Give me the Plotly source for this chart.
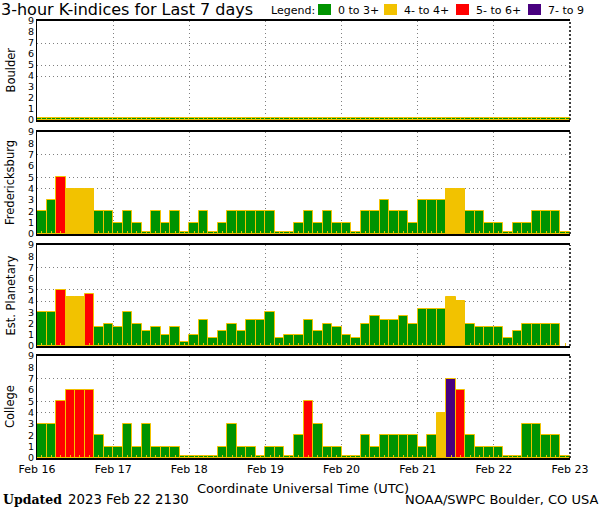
import plotly.graph_objects as go
from plotly.subplots import make_subplots
import pandas as pd

# ---------------- data ----------------
start_time = "2023-02-16 01:30"          # centre of first 3-hour interval
range_start = "2023-02-16 00:00"
range_end = "2023-02-23 00:00"
day_ticks = ["2023-02-16", "2023-02-17", "2023-02-18", "2023-02-19",
             "2023-02-20", "2023-02-21", "2023-02-22", "2023-02-23"]
day_labels = ["Feb 16", "Feb 17", "Feb 18", "Feb 19",
              "Feb 20", "Feb 21", "Feb 22", "Feb 23"]
k_ticks = [0, 1, 2, 3, 4, 5, 6, 7, 8, 9]
stations = ["Boulder", "Fredericksburg", "Est. Planetary", "College"]

boulder = [
    0, 0, 0, 0, 0, 0, 0, 0,
    0, 0, 0, 0, 0, 0, 0, 0,
    0, 0, 0, 0, 0, 0, 0, 0,
    0, 0, 0, 0, 0, 0, 0, 0,
    0, 0, 0, 0, 0, 0, 0, 0,
    0, 0, 0, 0, 0, 0, 0, 0,
    0, 0, 0, 0, 0, 0, 0, 0,
]
fredericksburg = [
    2, 3, 5, 4, 4, 4, 2, 2,
    1, 2, 1, 0, 2, 1, 2, 0,
    1, 2, 0, 1, 2, 2, 2, 2,
    2, 0, 0, 1, 2, 1, 2, 1,
    1, 0, 2, 2, 3, 2, 2, 1,
    3, 3, 3, 4, 4, 2, 2, 1,
    1, 0, 1, 1, 2, 2, 2, 0,
]
est_planetary = [
    3, 3, 5, 4.33, 4.33, 4.67, 1.67, 2,
    1.67, 3, 2, 1.33, 1.67, 1, 1.67, 0.33,
    1, 2.33, 0.67, 1.33, 2, 1.33, 2.33, 2.33,
    3, 0.67, 1, 1, 2.33, 1.33, 2, 1.67,
    1, 0.67, 2, 2.67, 2.33, 2.33, 2.67, 2,
    3.33, 3.33, 3.33, 4.33, 4, 2, 1.67, 1.67,
    1.67, 0.67, 1.33, 2, 2, 2, 2, None,
]
college = [
    3, 3, 5, 6, 6, 6, 2, 1,
    1, 3, 1, 3, 1, 1, 1, 0,
    0, 0, 0, 1, 3, 1, 1, 0,
    1, 1, 0, 2, 5, 3, 1, 1,
    0, 0, 2, 1, 2, 2, 2, 2,
    1, 2, 4, 7, 6, 2, 1, 1,
    1, 0, 0, 3, 3, 2, 2, 0,
]
series = [boulder, fredericksburg, est_planetary, college]

legend_labels = ["0 to 3+", "4- to 4+", "5- to 6+", "7- to 9"]

# ---------------- styling ----------------
GREEN = "#009300"
GOLD = "#F2C200"
RED = "#FF0000"
PURPLE = "#48007F"
GRID = "#808080"
GRID_DASH = "1px,3px"
ZERO_H = 0.2
BAR_MS = 3 * 3600 * 1000

W, H = 600, 510
L, R, T, B = 37, 30, 21, 52
PW = W - L - R
PH = H - T - B


def px_x(px):
    return (px - L) / PW


def px_y(py):
    return (H - B - py) / PH


panels = [(21, 120), (132, 234), (245, 346), (356, 458)]


def kcolor(v):
    if v is None:
        return GREEN
    if v < 3.9:
        return GREEN
    if v < 4.5:
        return GOLD
    if v < 6.5:
        return RED
    return PURPLE


times = pd.date_range(start_time, periods=len(boulder), freq="3h")

fig = make_subplots(rows=4, cols=1, shared_xaxes=True)

for i, (name, vals) in enumerate(zip(stations, series), start=1):
    heights = [None if v is None else max(v, ZERO_H) for v in vals]
    fig.add_trace(
        go.Bar(
            x=times, y=heights, width=BAR_MS,
            marker=dict(color=[kcolor(v) for v in vals],
                        line=dict(color=GOLD, width=1)),
            customdata=vals, hovertemplate="%{x}<br>K=%{customdata}<extra>" + name + "</extra>",
            showlegend=False, name=name,
        ),
        row=i, col=1,
    )
    top, bot = panels[i - 1]
    fig.update_yaxes(domain=[px_y(bot), px_y(top)], row=i, col=1)
    # dotted right edge
    sfx = '' if i == 1 else str(i)
    fig.add_shape(type="line", xref=f"x{sfx} domain", yref=f"y{sfx} domain",
                  x0=1, x1=1, y0=0, y1=1, line=dict(color="black", width=1.5, dash="2px,2px"))
    fig.add_annotation(text=name, xref="paper", yref="paper",
                       x=px_x(10), y=px_y((top + bot) / 2), textangle=-90,
                       showarrow=False, xanchor="center", yanchor="middle",
                       font=dict(family="DejaVu Sans", size=11.5, color="black"))

fig.update_yaxes(
    range=[0, 9], tickmode="array", tickvals=k_ticks, ticks="",
    showgrid=False, zeroline=False, showline=True, linecolor="black", linewidth=1,
    tickfont=dict(family="DejaVu Sans", size=9.5, color="black"),
    minor=dict(tickmode="array", tickvals=[4, 5, 7], showgrid=True, gridcolor=GRID,
               griddash=GRID_DASH, gridwidth=1, ticks=""),
    fixedrange=True,
)
fig.update_xaxes(
    type="date", range=[range_start, range_end],
    tickmode="array", tickvals=day_ticks, ticktext=day_labels, ticks="",
    showgrid=True, gridcolor=GRID, griddash=GRID_DASH, gridwidth=1,
    showline=True, mirror=True, linecolor="black", linewidth=2, zeroline=False,
    tickfont=dict(family="DejaVu Sans", size=11, color="black"),
    minor=dict(ticks="inside", ticklen=3, tickcolor=GOLD, tickwidth=1,
               tick0=start_time, dtick=BAR_MS, showgrid=False),
    fixedrange=True,
)

# title
fig.add_annotation(text="3-hour K-indices for Last 7 days", xref="paper", yref="paper",
                   x=px_x(-1), y=px_y(9), xanchor="left", yanchor="middle", showarrow=False,
                   font=dict(family="DejaVu Sans", size=16, color="black"))
# legend
fig.add_annotation(text="Legend:", xref="paper", yref="paper",
                   x=px_x(269), y=px_y(10.5), xanchor="left", yanchor="middle", showarrow=False,
                   font=dict(family="DejaVu Sans", size=11, color="black"))
legend_boxes = [(318, 331, GREEN), (384, 397, GOLD), (456, 469, RED), (528, 541, PURPLE)]
legend_text_x = [336, 402, 474, 546]
for (x0, x1, c), lab, tx in zip(legend_boxes, legend_labels, legend_text_x):
    fig.add_shape(type="rect", xref="paper", yref="paper",
                  x0=px_x(x0), x1=px_x(x1), y0=px_y(15), y1=px_y(4),
                  fillcolor=c, line=dict(width=0))
    fig.add_annotation(text=lab, xref="paper", yref="paper",
                       x=px_x(tx), y=px_y(10.5), xanchor="left", yanchor="middle", showarrow=False,
                       font=dict(family="DejaVu Sans", size=11, color="black"))

# x-axis title & footer
fig.add_annotation(text="Coordinate Universal Time (UTC)", xref="paper", yref="paper",
                   x=px_x(303), y=px_y(488), xanchor="center", yanchor="middle", showarrow=False,
                   font=dict(family="DejaVu Sans", size=13, color="black"))
fig.add_annotation(text="<b>Updated</b>", xref="paper", yref="paper",
                   x=px_x(1), y=px_y(500), xanchor="left", yanchor="middle", showarrow=False,
                   font=dict(family="DejaVu Serif", size=12.5, color="black"))
fig.add_annotation(text="2023 Feb 22 2130", xref="paper", yref="paper",
                   x=px_x(66), y=px_y(500), xanchor="left", yanchor="middle", showarrow=False,
                   font=dict(family="DejaVu Sans", size=13.3, color="black"))
fig.add_annotation(text="NOAA/SWPC Boulder, CO USA", xref="paper", yref="paper",
                   x=px_x(600), y=px_y(500), xanchor="right", yanchor="middle", showarrow=False,
                   font=dict(family="DejaVu Sans", size=13, color="black"))

fig.update_layout(
    width=W, height=H, margin=dict(l=L, r=R, t=T, b=B, pad=0),
    paper_bgcolor="white", plot_bgcolor="white",
    bargap=0, showlegend=False,
    font=dict(family="DejaVu Sans", color="black"),
)

fig.write_html("out.html",
               config={"displayModeBar": False},
               post_script="document.body.style.margin='0';document.body.style.overflow='hidden';")
